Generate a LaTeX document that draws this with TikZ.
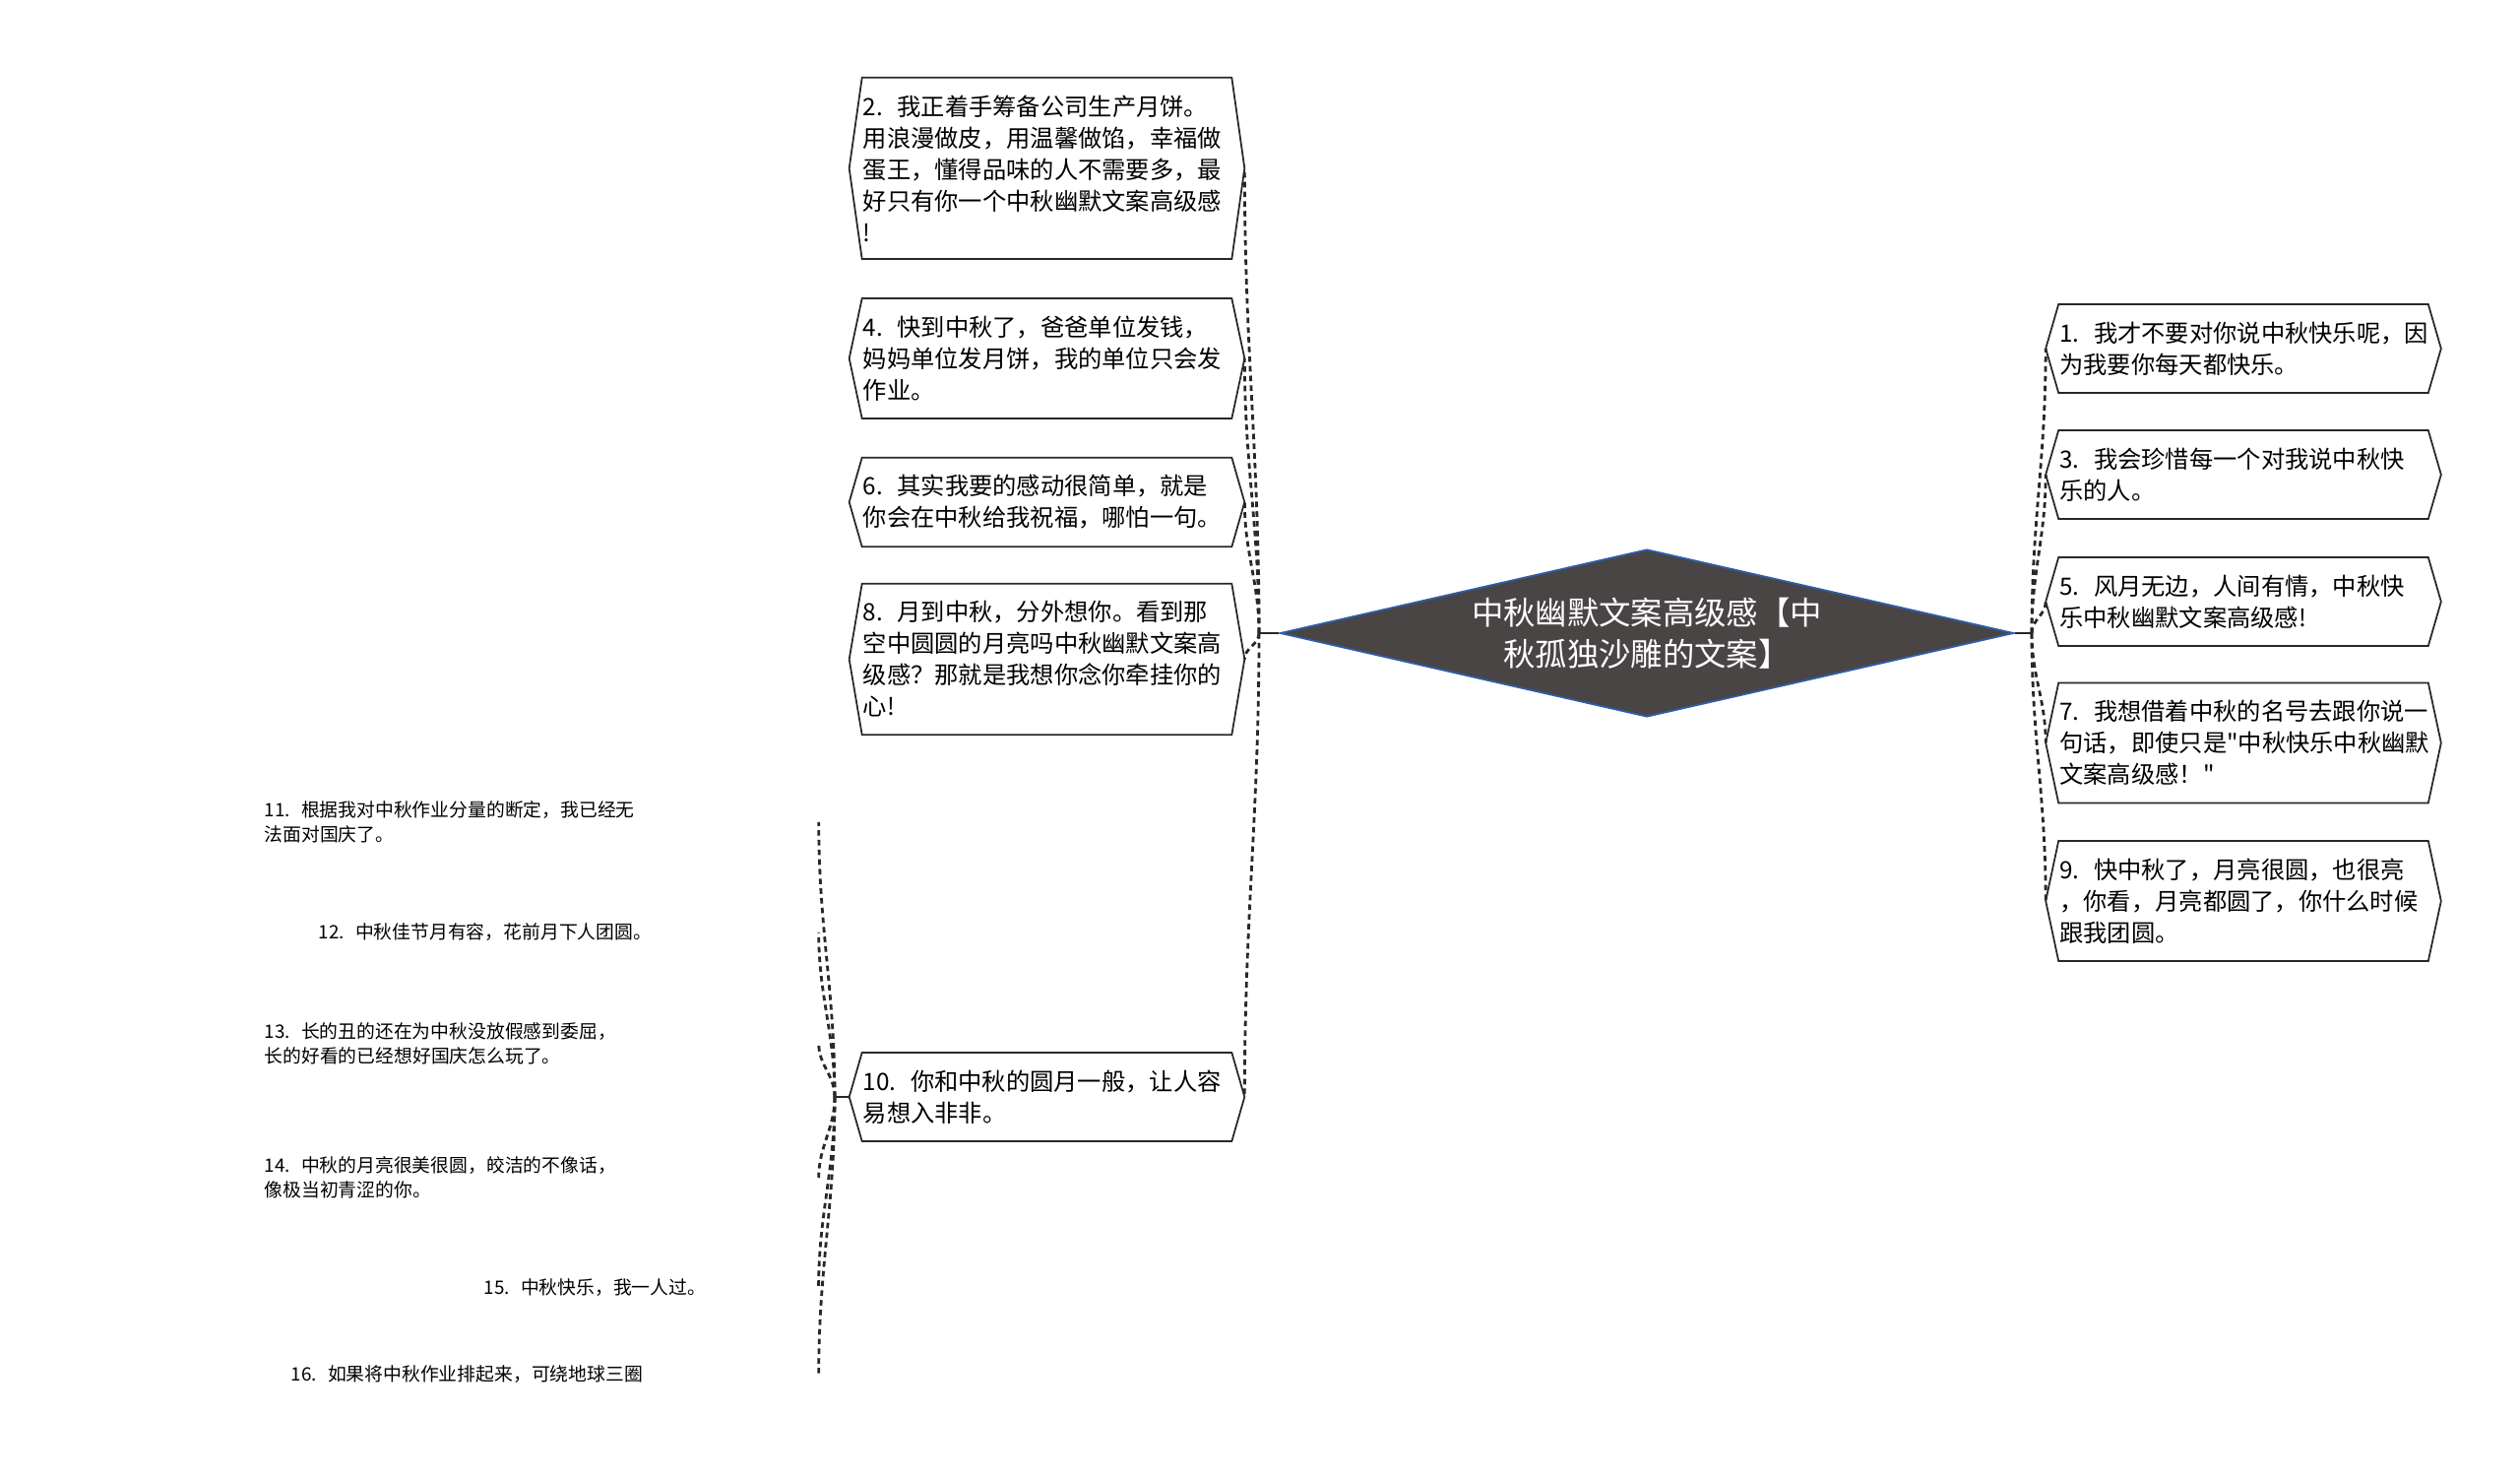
\documentclass[tikz,border=0pt]{standalone}
\usepackage{fontspec}
\setmainfont{Noto Sans CJK SC}[Ligatures=TeXOff]
\usepackage{xcolor}
\usetikzlibrary{shapes.geometric}
\definecolor{rootfill}{RGB}{74,69,69}
\definecolor{rootline}{RGB}{45,95,170}
\definecolor{inkline}{RGB}{40,40,40}
\newcommand{\itemno}[1]{#1.\nobreak\hspace{0.6em}\nobreak}

\begin{document}
\begin{tikzpicture}[x=0.01cm,y=-0.01cm]
\tikzstyle{box} =[font=\fontsize{6.9pt}{9.1pt}\selectfont, align=left, text width=3.73cm, inner xsep=0.005cm, inner ysep=0.17cm]
\tikzstyle{leaf} =[anchor=west, font=\fontsize{5.35pt}{6.97pt}\selectfont, align=left, inner sep=0pt]
\tikzstyle{rim} =[draw=inkline, line width=0.5pt, line join=miter]
\tikzstyle{link} =[draw=inkline, line width=0.8pt, dash pattern=on 1.6pt off 1.2pt]
\tikzstyle{stem} =[draw=inkline, line width=0.7pt]
\tikzstyle{goup} =[out=90, in=-90]
\tikzstyle{godown} =[out=-90, in=90]
\useasboundingbox (0,0) rectangle (2560,1501);

\node[diamond, aspect=4.39, minimum width=7.45cm, minimum height=1.7cm, inner sep=0pt, fill=rootfill, draw=rootline, line width=0.5pt, text=white, align=center, font=\fontsize{9.2pt}{12.1pt}\selectfont](root) at (1673,643){中秋幽默文案高级感【中\\秋孤独沙雕的文案】};

\node[box](b2) at (1063.5,171){\itemno{2}我正着手筹备公司生产月饼。\\用浪漫做皮，用温馨做馅，幸福做\\蛋王，懂得品味的人不需要多，最\\好只有你一个中秋幽默文案高级感\\!};
\node[box](b4) at (1063.5,364){\itemno{4}快到中秋了，爸爸单位发钱，\\妈妈单位发月饼，我的单位只会发\\作业。};
\node[box](b6) at (1063.5,510){\itemno{6}其实我要的感动很简单，就是\\你会在中秋给我祝福，哪怕一句。};
\node[box](b8) at (1063.5,669.5){\itemno{8}月到中秋，分外想你。看到那\\空中圆圆的月亮吗中秋幽默文案高\\级感？那就是我想你念你牵挂你的\\心!};
\node[box](b10) at (1063.5,1114){\itemno{10}你和中秋的圆月一般，让人容\\易想入非非。};

\node[box](b1) at (2279,354){\itemno{1}我才不要对你说中秋快乐呢，因\\为我要你每天都快乐。};
\node[box](b3) at (2279,482){\itemno{3}我会珍惜每一个对我说中秋快\\乐的人。};
\node[box](b5) at (2279,611){\itemno{5}风月无边，人间有情，中秋快\\乐中秋幽默文案高级感!};
\node[box](b7) at (2279,754.5){\itemno{7}我想借着中秋的名号去跟你说一\\句话，即使只是"中秋快乐中秋幽默\\文案高级感！"};
\node[box](b9) at (2279,915){\itemno{9}快中秋了，月亮很圆，也很亮\\，你看，月亮都圆了，你什么时候\\跟我团圆。};

\node[leaf, text width=5.62cm](l11) at (268,835){\itemno{11}根据我对中秋作业分量的断定，我已经无\\法面对国庆了。};
\node[leaf, text width=5.07cm](l12) at (323,947){\itemno{12}中秋佳节月有容，花前月下人团圆。};
\node[leaf, text width=5.62cm](l13) at (268,1060){\itemno{13}长的丑的还在为中秋没放假感到委屈，\\长的好看的已经想好国庆怎么玩了。};
\node[leaf, text width=5.62cm](l14) at (268,1196){\itemno{14}中秋的月亮很美很圆，皎洁的不像话，\\像极当初青涩的你。};
\node[leaf, text width=3.39cm](l15) at (491,1308){\itemno{15}中秋快乐，我一人过。};
\node[leaf, text width=5.35cm](l16) at (295,1396){\itemno{16}如果将中秋作业排起来，可绕地球三圈};

\foreach \b in {b1,b2,b3,b4,b5,b6,b7,b8,b9,b10}
  \draw[rim] (\b.north west) -- (\b.north east) -- ([xshift=0.13cm]\b.east) -- (\b.south east) -- (\b.south west) -- ([xshift=-0.13cm]\b.west) -- cycle;

\coordinate (hubL) at (1279,643);
\coordinate (hubR) at (2064,643);
\coordinate (hubB) at (848,1114);
\draw[stem] (root.west) -- (hubL);
\draw[stem] (root.east) -- (hubR);
\draw[stem] ([xshift=-0.13cm]b10.west) -- (hubB);

\foreach \b in {b2,b4,b6}
  \draw[link] (hubL) to[goup] ([xshift=0.13cm]\b.east);
\foreach \b in {b8,b10}
  \draw[link] (hubL) to[godown] ([xshift=0.13cm]\b.east);
\foreach \b in {b1,b3,b5}
  \draw[link] (hubR) to[goup] ([xshift=-0.13cm]\b.west);
\foreach \b in {b7,b9}
  \draw[link] (hubR) to[godown] ([xshift=-0.13cm]\b.west);
\foreach \l in {l11,l12,l13}
  \draw[link] (hubB) to[goup] (\l.east);
\foreach \l in {l14,l15,l16}
  \draw[link] (hubB) to[godown] (\l.east);
\end{tikzpicture}
\end{document}
